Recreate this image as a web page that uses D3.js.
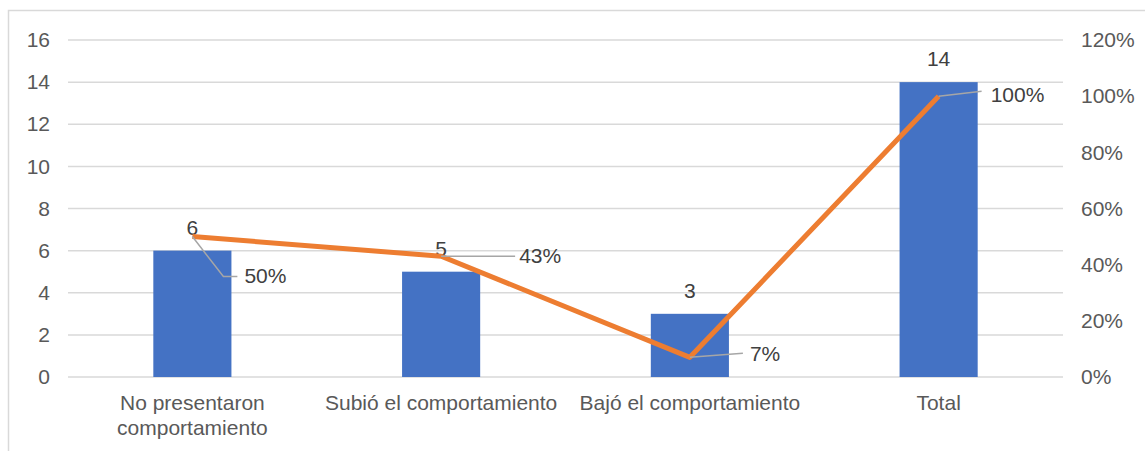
<!DOCTYPE html>
<html><head><meta charset="utf-8">
<script src="https://cdn.jsdelivr.net/npm/d3@7/dist/d3.min.js"></script>
<style>
html,body{margin:0;padding:0;background:#fff;}
svg{display:block;font-family:"Liberation Sans",Arial,sans-serif;}
</style></head>
<body>
<svg id="chart" width="1145" height="451"></svg>
<script>
const categories = [["No presentaron","comportamiento"],["Subió el comportamiento"],["Bajó el comportamiento"],["Total"]];
const counts = [6, 5, 3, 14];
const percents = [0.50, 0.43, 0.07, 1.00];
const leftTicks = [0, 2, 4, 6, 8, 10, 12, 14, 16];
const rightTicks = [0, 0.2, 0.4, 0.6, 0.8, 1.0, 1.2];

(function () {
const svg = d3.select("#chart");
const mLeft = 68, mRight = 1063, mTop = 40, mBottom = 377;
const fs = 21;

// outer border
svg.append("rect").attr("x", 8.5).attr("y", 10.5).attr("width", 1200).attr("height", 500)
  .attr("fill", "none").attr("stroke", "#d9d9d9").attr("stroke-width", 1.5);

const keys = categories.map((c, i) => "c" + i);
const x = d3.scaleBand().domain(keys).range([mLeft, mRight]).paddingInner(0.686).paddingOuter(0.343);
const y = d3.scaleLinear().domain([0, 16]).range([mBottom, mTop]);
const y2 = d3.scaleLinear().domain([0, 1.2]).range([mBottom, mTop]);

// gridlines
svg.append("g").selectAll("line").data(leftTicks).join("line")
  .attr("x1", mLeft).attr("x2", mRight)
  .attr("y1", d => y(d)).attr("y2", d => y(d))
  .attr("stroke", "#d9d9d9").attr("stroke-width", 1.5);

// left axis labels
const ga = svg.append("g").attr("transform", `translate(${mLeft},0)`)
  .call(d3.axisLeft(y).tickValues(leftTicks).tickSize(0).tickPadding(18));
ga.select(".domain").remove();
ga.selectAll("text").attr("font-size", fs).attr("fill", "#595959").attr("font-family", "Liberation Sans, Arial, sans-serif");

// right axis labels
const gb = svg.append("g").attr("transform", `translate(${mRight},0)`)
  .call(d3.axisRight(y2).tickValues(rightTicks).tickSize(0).tickPadding(18).tickFormat(d3.format(".0%")));
gb.select(".domain").remove();
gb.selectAll("text").attr("font-size", fs).attr("fill", "#595959").attr("font-family", "Liberation Sans, Arial, sans-serif");

// bars
svg.append("g").selectAll("rect").data(counts).join("rect")
  .attr("x", (d, i) => x(keys[i])).attr("width", x.bandwidth())
  .attr("y", d => y(d)).attr("height", d => mBottom - y(d))
  .attr("fill", "#4472C4");

// bar value labels
svg.append("g").selectAll("text").data(counts).join("text")
  .attr("x", (d, i) => x(keys[i]) + x.bandwidth() / 2)
  .attr("y", d => y(d) - 16)
  .attr("text-anchor", "middle").attr("font-size", fs).attr("fill", "#404040")
  .text(d => d);

// line
const cx = i => x(keys[i]) + x.bandwidth() / 2;
const line = d3.line().x((d, i) => cx(i)).y(d => y2(d));
svg.append("path").datum(percents).attr("d", line)
  .attr("fill", "none").attr("stroke", "#ED7D31").attr("stroke-width", 5).attr("stroke-linejoin", "round");

// percent labels with leader lines (offsets relative to point)
const leaders = [
  [[0,0],[31,40],[45,40]],
  [[0,0],[74,0]],
  [[0,0],[53,-4]],
  [[0,0],[43,-5]]
];
const labelOff = [[52, 41], [78, 1], [60, -2], [52, 0]];
const fmt = d3.format(".0%");
percents.forEach((p, i) => {
  const px = cx(i), py = y2(p);
  svg.append("path")
    .attr("d", d3.line()(leaders[i].map(o => [px + o[0], py + o[1]])))
    .attr("fill", "none").attr("stroke", "#a6a6a6").attr("stroke-width", 1.5);
  svg.append("text").attr("x", px + labelOff[i][0]).attr("y", py + labelOff[i][1])
    .attr("dominant-baseline", "middle").attr("font-size", fs).attr("fill", "#404040")
    .text(fmt(p));
});

// category labels
const cg = svg.append("g");
categories.forEach((lines, i) => {
  const t = cg.append("text").attr("x", cx(i)).attr("y", 410)
    .attr("text-anchor", "middle").attr("font-size", fs).attr("fill", "#595959");
  lines.forEach((s, j) => t.append("tspan").attr("x", cx(i)).attr("dy", j === 0 ? 0 : 25).text(s));
});
})();
</script>
</body></html>
